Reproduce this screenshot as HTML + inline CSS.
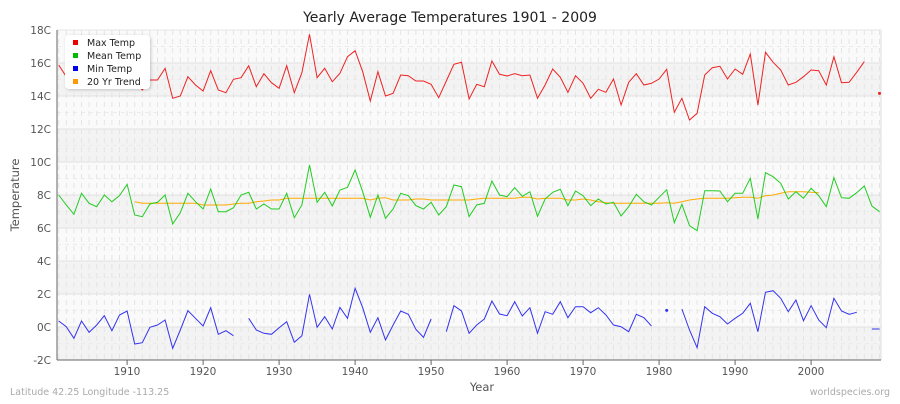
<!DOCTYPE html>
<html><head><meta charset="utf-8"><style>
body{margin:0;background:#fff;font-family:"DejaVu Sans",sans-serif;}
</style></head><body>
<svg id="s" width="900" height="400" xmlns="http://www.w3.org/2000/svg" font-family="DejaVu Sans, sans-serif">
<defs><filter id="sh" x="-10%" y="-10%" width="130%" height="130%"><feDropShadow dx="1" dy="1" stdDeviation="1.5" flood-opacity="0.2"/></filter></defs>
<rect width="900" height="400" fill="#fff"/>
<g id="bands"></g>
<g id="grid"></g>
<line x1="881" y1="30" x2="881" y2="360" stroke="#ddd"/>
<line x1="57" y1="30" x2="881" y2="30" stroke="#e6e6e6"/>
<line x1="57" y1="30" x2="57" y2="360" stroke="#666"/>
<line x1="57" y1="360" x2="881" y2="360" stroke="#666"/>
<g id="ticks" stroke="#666"></g>
<g font-size="10.5" fill="#555" text-anchor="end">
<text x="51" y="34">18C</text><text x="51" y="67">16C</text><text x="51" y="100">14C</text><text x="51" y="133">12C</text><text x="51" y="166">10C</text><text x="51" y="199">8C</text><text x="51" y="232">6C</text><text x="51" y="265">4C</text><text x="51" y="298">2C</text><text x="51" y="331">0C</text><text x="51" y="364">-2C</text>
</g>
<g font-size="10.5" fill="#555" text-anchor="middle">
<text x="127" y="375">1910</text><text x="203" y="375">1920</text><text x="279" y="375">1930</text><text x="355" y="375">1940</text><text x="431" y="375">1950</text><text x="507" y="375">1960</text><text x="583" y="375">1970</text><text x="659" y="375">1980</text><text x="735" y="375">1990</text><text x="811" y="375">2000</text>
</g>
<text x="450" y="22" font-size="14" text-anchor="middle" fill="#222">Yearly Average Temperatures 1901 - 2009</text>
<text x="482" y="391" font-size="11.5" text-anchor="middle" fill="#555">Year</text>
<text x="19" y="195" font-size="11.5" text-anchor="middle" fill="#555" transform="rotate(-90 19 195)">Temperature</text>
<text x="10" y="395" font-size="9.5" fill="#aaa">Latitude 42.25 Longitude -113.25</text>
<text x="890" y="395" font-size="9.5" fill="#aaa" text-anchor="end">worldspecies.org</text>
<g id="series" fill="none" stroke-width="1"></g>
<rect x="65" y="35" width="85" height="54" rx="4" fill="#fff" filter="url(#sh)"/>
<g font-size="9.5" fill="#222">
<rect x="73" y="40" width="5" height="5" fill="#e00"/><text x="87" y="46">Max Temp</text>
<rect x="73" y="53" width="5" height="5" fill="#0b0"/><text x="87" y="59">Mean Temp</text>
<rect x="73" y="66" width="5" height="5" fill="#00e"/><text x="87" y="72">Min Temp</text>
<rect x="73" y="79" width="5" height="5" fill="#f90"/><text x="87" y="85">20 Yr Trend</text>
</g>
</svg>
<script>
var NS="http://www.w3.org/2000/svg";
function el(p,t,a){var e=document.createElementNS(NS,t);for(var k in a)e.setAttribute(k,a[k]);document.getElementById(p).appendChild(e);return e;}
for(var i=0;i<10;i++){var y=30+i*33;el("bands","rect",{x:57,y:y,width:824,height:33,fill:(i%2?"#f3f3f3":"#fafafa")});
el("grid","line",{x1:57,x2:881,y1:y+33,y2:y+33,stroke:"#e2e2e2"});el("grid","line",{x1:57,x2:881,y1:y+16.5,y2:y+16.5,stroke:"#ebebeb","stroke-dasharray":"4,4"});}
function X(yr){return 58.7+7.6*(yr-1901);}
for(var yr=1901;yr<=2009;yr++){el("grid","line",{x1:X(yr),x2:X(yr),y1:30,y2:360,stroke:"#e4e4e4","stroke-dasharray":"5,4"});}
for(var t=1910;t<=2000;t+=10){el("ticks","line",{x1:X(t),x2:X(t),y1:360,y2:365});}
var red1=[120,155,150,145,160,150,140,150,155,160,165,195,165,165,130,220,213,155,180,198,137,195,203,163,158,122,185,146,173,190,122,203,143,28,158,130,170,145,95,77,140,228,140,213,205,150,152,168,168,178,218,168,118,112];
var red2=[222,178,185,108,148,153,146,152,150,220,180,132,157,202,152,175,220,193,202,162,240,172,146,180,175,162,133,262,220,285,265,150,128,124,162,132,148,87,240,82,112,135,180,172,155,135,137,180,95,173,172,142,110,null,205];
var g1=[510,540,568,505,535,545,510,530,512,478,570,575,537,532,510,597,563,505,530,552,492,560,560,548,510,502,552,537,552,552,505,578,540,420,532,502,543,495,487,435,500,577,510,580,552,505,512,542,552,532,570,545,480,485];
var g2=[575,540,535,468,510,515,488,514,500,574,522,502,493,542,498,512,542,522,537,532,573,545,508,530,540,517,494,593,538,602,617,497,497,498,530,505,505,460,582,443,455,475,522,500,520,490,512,545,458,518,520,503,483,543,560];
var b1=[888,905,940,888,922,900,872,917,870,858,957,953,907,900,885,970,915,857,880,903,848,928,917,932,null,880,915,925,928,908,890,952,932,808,907,875,912,847,880,790,848,922,878,945,900,858,868,913,937,882,null,920,842,858];
var b2=[925,900,882,828,867,872,830,873,848,925,860,868,830,878,845,845,863,848,870,900,905,920,868,878,903,null,856,null,852,915,968,845,865,875,897,880,865,835,920,802,797,820,860,825,887,842,885,908,820,858,868,862,null,912,912];
function yy(z){return z==null?null:25+z/3;}
function draw(a,col){var segs=[],cur=[];for(var i=0;i<a.length;i++){var v=yy(a[i]);if(v==null){if(cur.length)segs.push(cur);cur=[];}else cur.push([X(1901+i),v]);}if(cur.length)segs.push(cur);
segs.forEach(function(s){if(s.length==1)el("series","circle",{cx:s[0][0],cy:s[0][1],r:1.5,fill:col,stroke:"none"});else el("series","polyline",{points:s.map(function(p){return p[0].toFixed(1)+","+p[1].toFixed(1)}).join(" "),stroke:col});});}
var tr=[];for(var y=1901;y<=2009;y++)tr.push(null);
var tv={1911:530,1912:535,1913:535,1914:535,1915:535,1916:535,1917:535,1918:535,1919:535,1920:540,1921:540,1922:540,1923:540,1924:537,1925:535,1926:535,1927:530,1928:528,1929:525,1930:525,1931:520,1932:520,1933:520,1934:520,1935:520,1936:520,1937:520,1938:520,1939:520,1940:520,1941:520,1942:525,1943:520,1944:518,1945:525,1946:525,1947:525,1948:522,1949:522,1950:525,1951:525,1952:525,1953:525,1954:525,1955:525,1956:522,1957:520,1958:520,1959:520,1960:520,1961:520,1962:517,1963:517,1964:522,1965:520,1966:520,1967:520,1968:525,1969:525,1970:522,1971:525,1972:530,1973:533,1974:535,1975:535,1976:535,1977:535,1978:535,1979:535,1980:535,1981:533,1982:535,1983:530,1984:525,1985:522,1986:520,1987:520,1988:520,1989:520,1990:518,1991:517,1992:517,1993:520,1994:512,1995:510,1996:505,1997:500,1998:500,1999:500,2000:502,2001:503};
for(var k in tv)tr[k-1901]=tv[k];
draw(tr,"#fa0");
draw(red1.concat(red2),"#e22");
draw(g1.concat(g2),"#2c2");
draw(b1.concat(b2),"#33e");
</script>
</body></html>
